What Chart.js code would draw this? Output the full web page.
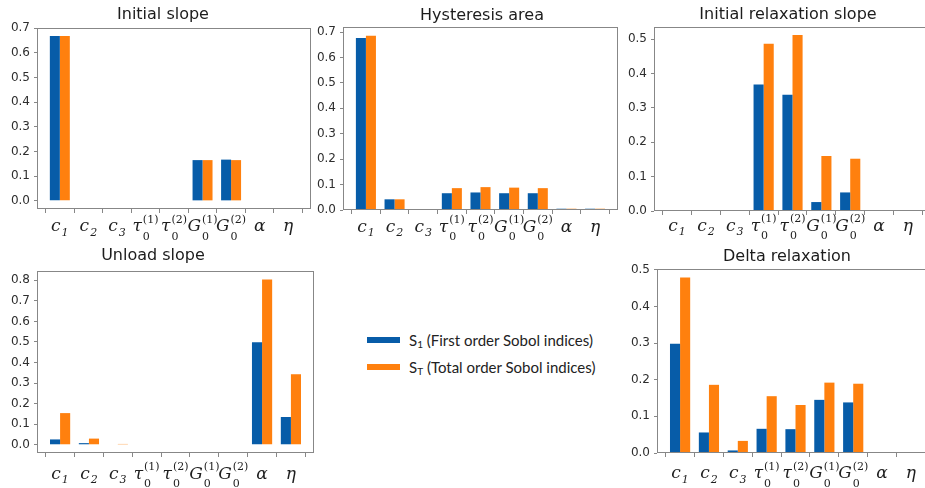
<!DOCTYPE html>
<html>
<head>
<meta charset="utf-8">
<title>Sobol sensitivity indices</title>
<script src="https://cdn.jsdelivr.net/npm/chart.js@4.4.1/dist/chart.umd.min.js"></script>
<style>
  html, body { margin: 0; padding: 0; background: #fff; width: 925px; height: 488px; overflow: hidden; }
  #stage { position: relative; width: 925px; height: 488px; }
  #stage canvas { position: absolute; }
  .swatch { position: absolute; width: 33px; height: 6px; }
  .keytext { position: absolute; font-family: Lato, "Liberation Sans", sans-serif; font-size: 15px; color: #222; white-space: nowrap; line-height: 18px; }
  .keytext sub { font-size: 10px; vertical-align: -2px; line-height: 0; }
</style>
</head>
<body>
<div id="stage">
  <div class="swatch" style="left:367px; top:337px; background:#075CA8"></div>
  <div class="keytext" style="left:409px; top:331px">S<sub>1</sub> (First order Sobol indices)</div>
  <div class="swatch" style="left:367px; top:364px; background:#FF800E"></div>
  <div class="keytext" style="left:409px; top:358px">S<sub>T</sub> (Total order Sobol indices)</div>
</div>
<script>
// Model parameters on the horizontal axis
const categories = ['c1', 'c2', 'c3', 'tau0(1)', 'tau0(2)', 'G0(1)', 'G0(2)', 'alpha', 'eta'];
const categoryLabels = [
  { base: 'c', sub: '1' }, { base: 'c', sub: '2' }, { base: 'c', sub: '3' },
  { base: 'τ', sub: '0', sup: '(1)' }, { base: 'τ', sub: '0', sup: '(2)' },
  { base: 'G', sub: '0', sup: '(1)' }, { base: 'G', sub: '0', sup: '(2)' },
  { base: 'α' }, { base: 'η' }
];

// First order (S1) and total order (ST) Sobol indices per output quantity
const initialSlopeS1 = [0.668, 0, 0, 0, 0, 0.165, 0.167, 0, 0];
const initialSlopeST = [0.668, 0, 0, 0, 0, 0.165, 0.165, 0, 0];

const hysteresisS1 = [0.677, 0.042, 0.004, 0.066, 0.069, 0.066, 0.066, 0.005, 0.005];
const hysteresisST = [0.686, 0.042, 0.004, 0.086, 0.090, 0.088, 0.086, 0.005, 0.005];

const relaxSlopeS1 = [0, 0, 0, 0.368, 0.338, 0.026, 0.054, 0, 0];
const relaxSlopeST = [0, 0, 0, 0.486, 0.512, 0.160, 0.152, 0, 0];

const unloadS1 = [0.026, 0.008, 0, 0, 0, 0, 0, 0.498, 0.135];
const unloadST = [0.154, 0.030, 0.004, 0, 0, 0, 0, 0.804, 0.343];

const deltaS1 = [0.298, 0.056, 0.007, 0.066, 0.065, 0.145, 0.138, 0, 0];
const deltaST = [0.479, 0.186, 0.033, 0.155, 0.131, 0.192, 0.189, 0, 0];

// Y tick labels
const yTicks07 = [0, 0.1, 0.2, 0.3, 0.4, 0.5, 0.6, 0.7];
const yTicks05 = [0, 0.1, 0.2, 0.3, 0.4, 0.5];
const yTicks08 = [0, 0.1, 0.2, 0.3, 0.4, 0.5, 0.6, 0.7, 0.8];

const S1_COLOR = '#075CA8';
const ST_COLOR = '#FF800E';
const FRAME = '#878787';

// Fixed margins around each plot box inside its canvas
const YW = 40, TOP = 34, XH = 46, RP = 2;

const panels = [
  { title: 'Initial slope', s1: initialSlopeS1, st: initialSlopeST, yMin: -0.033, yMax: 0.70, yTicks: yTicks07,
    box: { l: 37, t: 28, r: 311, b: 209 }, titleAt: { x: 163, y: 15 }, labelGap: 22 },
  { title: 'Hysteresis area', s1: hysteresisS1, st: hysteresisST, yMin: 0, yMax: 0.72, yTicks: yTicks07,
    box: { l: 343, t: 27, r: 618, b: 210 }, titleAt: { x: 482, y: 16 }, labelGap: 21.5 },
  { title: 'Initial relaxation slope', s1: relaxSlopeS1, st: relaxSlopeST, yMin: 0, yMax: 0.535, yTicks: yTicks05,
    box: { l: 654, t: 27, r: 931, b: 211 }, titleAt: { x: 788, y: 15 }, labelGap: 19.5 },
  { title: 'Unload slope', s1: unloadS1, st: unloadST, yMin: -0.04, yMax: 0.845, yTicks: yTicks08,
    box: { l: 37, t: 271, r: 314, b: 453 }, titleAt: { x: 153, y: 256 }, labelGap: 25.5 },
  { title: 'Delta relaxation', s1: deltaS1, st: deltaST, yMin: 0, yMax: 0.502, yTicks: yTicks05,
    box: { l: 657, t: 269, r: 934, b: 453 }, titleAt: { x: 787, y: 257 }, labelGap: 25 }
];

// Frame, title and math-style category labels
const panelDecor = {
  id: 'panelDecor',
  afterDraw(chart, args, o) {
    const { ctx, chartArea: a } = chart;
    const xs = chart.scales.x;
    ctx.save();
    ctx.strokeStyle = FRAME;
    ctx.lineWidth = 1;
    ctx.strokeRect(a.left + 0.5, a.top + 0.5, a.right - a.left - 1, a.bottom - a.top - 1);

    ctx.fillStyle = '#1c1c1c';
    ctx.font = '16px "DejaVu Sans"';
    ctx.textAlign = 'center';
    ctx.textBaseline = 'middle';
    ctx.fillText(o.title, o.titleX, o.titleY);

    ctx.textAlign = 'left';
    ctx.textBaseline = 'alphabetic';
    ctx.fillStyle = '#1e1e1e';
    const baseFont = 'italic 17px "DejaVu Serif"';
    const scriptFont = '11px "DejaVu Serif"';
    const subItalic = 'italic 11px "DejaVu Serif"';
    categoryLabels.forEach((lab, i) => {
      const cx = xs.getPixelForValue(i);
      const y = a.bottom + o.labelGap;
      ctx.font = baseFont;
      const wb = ctx.measureText(lab.base).width;
      let ws = 0;
      if (lab.sub || lab.sup) {
        ctx.font = lab.sup ? scriptFont : subItalic;
        ws = Math.max(lab.sub ? ctx.measureText(lab.sub).width : 0,
                      lab.sup ? ctx.measureText(lab.sup).width : 0) + 1;
      }
      const x0 = cx - (wb + ws) / 2;
      ctx.font = baseFont;
      ctx.fillText(lab.base, x0, y);
      if (lab.sub) {
        ctx.font = lab.sup ? scriptFont : subItalic;
        ctx.fillText(lab.sub, x0 + wb + 1, y + (lab.sup ? 8.5 : 4.5));
      }
      if (lab.sup) {
        ctx.font = scriptFont;
        ctx.fillText(lab.sup, x0 + wb + 1, y - 8.5);
      }
    });
    ctx.restore();
  }
};

Chart.defaults.font.family = '"DejaVu Sans"';

const stage = document.getElementById('stage');
panels.forEach(p => {
  const cLeft = p.box.l - YW, cTop = p.box.t - TOP;
  const w = (p.box.r - p.box.l) + YW + RP;
  const h = (p.box.b - p.box.t) + TOP + XH;
  const cv = document.createElement('canvas');
  cv.width = w; cv.height = h;
  cv.style.left = cLeft + 'px'; cv.style.top = cTop + 'px';
  cv.style.width = w + 'px'; cv.style.height = h + 'px';
  stage.appendChild(cv);

  new Chart(cv, {
    type: 'bar',
    data: {
      datasets: [
        { label: 'S1', data: p.s1.map((v, i) => ({ x: i, y: v })), backgroundColor: S1_COLOR, borderWidth: 0 },
        { label: 'ST', data: p.st.map((v, i) => ({ x: i, y: v })), backgroundColor: ST_COLOR, borderWidth: 0 }
      ]
    },
    options: {
      responsive: false,
      animation: false,
      devicePixelRatio: 1,
      layout: { padding: { top: TOP, right: RP, left: 0, bottom: 0 } },
      datasets: { bar: { categoryPercentage: 0.7, barPercentage: 1.0 } },
      plugins: {
        legend: { display: false },
        tooltip: { enabled: false },
        panelDecor: {
          title: p.title,
          titleX: p.titleAt.x - cLeft,
          titleY: p.titleAt.y - cTop,
          labelGap: p.labelGap
        }
      },
      scales: {
        x: {
          type: 'linear',
          min: -0.8, max: 8.8,
          offset: false,
          afterBuildTicks: s => { s.ticks = categories.map((c, i) => ({ value: i })); },
          afterFit: s => { s.height = XH; },
          ticks: { display: false },
          border: { display: false },
          grid: { display: true, drawOnChartArea: false, drawTicks: true, tickLength: 4, color: FRAME, lineWidth: 1 }
        },
        y: {
          min: p.yMin, max: p.yMax,
          afterBuildTicks: s => { s.ticks = p.yTicks.map(v => ({ value: v })); },
          afterFit: s => { s.width = YW; },
          ticks: {
            callback: v => Number(v).toFixed(1),
            font: { size: 12 },
            color: '#2e2e2e',
            padding: 4
          },
          border: { display: false },
          grid: { display: true, drawOnChartArea: false, drawTicks: true, tickLength: 3, color: FRAME, lineWidth: 1 }
        }
      }
    },
    plugins: [panelDecor]
  });
});
</script>
</body>
</html>
